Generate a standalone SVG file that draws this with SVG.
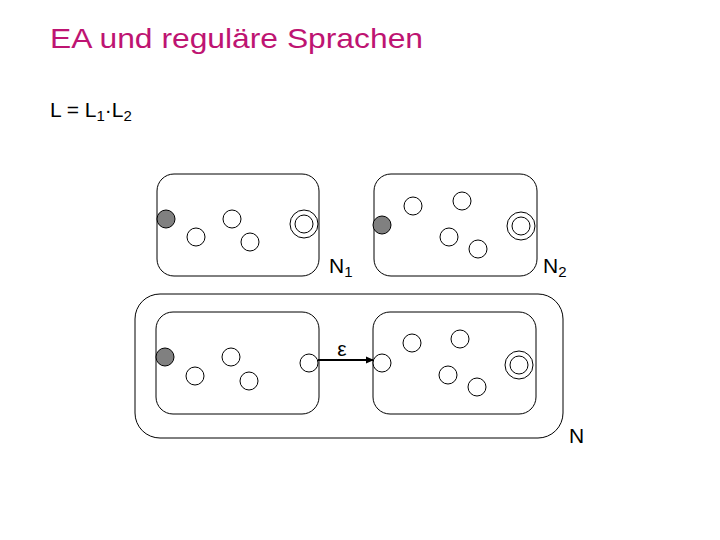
<svg xmlns="http://www.w3.org/2000/svg" width="720" height="540" viewBox="0 0 720 540">
<style>
.box{fill:none;stroke:#000;stroke-width:1}
.st{fill:#fff;stroke:#000;stroke-width:1}
.start{fill:#808080;stroke:#000;stroke-width:1}
.t{font-family:"Liberation Sans",Arial,sans-serif;fill:#000}
</style>
<defs>
<marker id="ah" markerWidth="8" markerHeight="8" refX="7" refY="4" orient="auto" markerUnits="userSpaceOnUse">
<path d="M0,0.5 L8,4 L0,7.5 Z" fill="#000"/>
</marker>
</defs>
<rect width="720" height="540" fill="#fff"/>
<text class="t" x="50" y="48" font-size="28" textLength="373" lengthAdjust="spacingAndGlyphs" style="fill:#BE1472">EA und reguläre Sprachen</text>
<text class="t" x="50" y="117" font-size="21">L = L<tspan font-size="15" dy="4">1</tspan><tspan dy="-4">·L</tspan><tspan font-size="15" dy="4">2</tspan></text>

<g id="N1">
<rect class="box" x="157" y="174" width="162" height="102" rx="17"/>
<circle class="start" cx="166" cy="219" r="9"/>
<circle class="st" cx="196" cy="237" r="9"/>
<circle class="st" cx="232" cy="219" r="9"/>
<circle class="st" cx="250" cy="242" r="9"/>
<circle class="st" cx="304" cy="224" r="14"/>
<circle class="st" cx="304" cy="224" r="9"/>
<text class="t" x="329" y="273" font-size="21">N<tspan font-size="15" dy="4">1</tspan></text>
</g>

<g id="N2">
<rect class="box" x="374" y="174" width="163" height="102" rx="17"/>
<circle class="start" cx="382" cy="225" r="9"/>
<circle class="st" cx="413" cy="206" r="9"/>
<circle class="st" cx="462" cy="201" r="9"/>
<circle class="st" cx="449" cy="237" r="9"/>
<circle class="st" cx="478" cy="249" r="9"/>
<circle class="st" cx="521" cy="226" r="14"/>
<circle class="st" cx="521" cy="226" r="9"/>
<text class="t" x="543" y="273" font-size="21">N<tspan font-size="15" dy="4">2</tspan></text>
</g>

<g id="N">
<rect class="box" x="135" y="294" width="428" height="144" rx="25"/>
<text class="t" x="569" y="443" font-size="21">N</text>
</g>

<g id="N1b">
<rect class="box" x="156" y="312" width="163" height="102" rx="17"/>
<circle class="start" cx="165" cy="357" r="9"/>
<circle class="st" cx="195" cy="376" r="9"/>
<circle class="st" cx="231" cy="357" r="9"/>
<circle class="st" cx="249" cy="381" r="9"/>
<circle class="st" cx="309" cy="363" r="9"/>
</g>

<g id="N2b">
<rect class="box" x="373" y="312" width="163" height="102" rx="17"/>
<circle class="st" cx="382" cy="363" r="9"/>
<circle class="st" cx="412" cy="343" r="9"/>
<circle class="st" cx="460" cy="339" r="9"/>
<circle class="st" cx="448" cy="375" r="9"/>
<circle class="st" cx="477" cy="387" r="9"/>
<circle class="st" cx="519" cy="365" r="14"/>
<circle class="st" cx="519" cy="365" r="9"/>
</g>

<g id="connectors">
<line x1="318" y1="360" x2="373" y2="360" stroke="#000" stroke-width="2" marker-end="url(#ah)"/>
<text class="t" x="342" y="356" font-size="21" text-anchor="middle">ε</text>
</g>
</svg>
